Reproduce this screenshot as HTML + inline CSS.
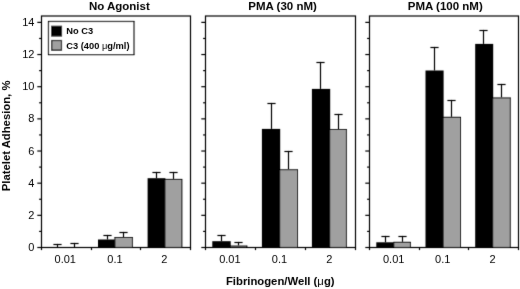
<!DOCTYPE html><html><head><meta charset="utf-8"><style>html,body{margin:0;padding:0;background:#fff;width:520px;height:289px;overflow:hidden}svg{display:block}text{font-family:"Liberation Sans",sans-serif;fill:#000}</style></head><body>
<svg width="520" height="289" viewBox="0 0 520 289">
<defs>
<filter id="bg" x="0" y="0" width="520" height="289" filterUnits="userSpaceOnUse"><feConvolveMatrix order="3" kernelMatrix="0.01134 0.08382 0.01134 0.08382 0.61935 0.08382 0.01134 0.08382 0.01134" edgeMode="none"/></filter>
<filter id="bt" x="0" y="0" width="520" height="289" filterUnits="userSpaceOnUse"><feConvolveMatrix order="3" kernelMatrix="0.00163 0.03713 0.00163 0.03713 0.84497 0.03713 0.00163 0.03713 0.00163" edgeMode="none"/></filter>
</defs>
<rect x="0" y="0" width="520" height="289" fill="#fff"/>
<g filter="url(#bg)">
<line x1="57.50" y1="247.50" x2="57.50" y2="243.90" stroke="#000" stroke-width="1.2"/>
<line x1="53.40" y1="244.50" x2="61.60" y2="244.50" stroke="#000" stroke-width="1.2"/>
<line x1="74.50" y1="247.50" x2="74.50" y2="242.90" stroke="#000" stroke-width="1.2"/>
<line x1="70.40" y1="243.50" x2="78.60" y2="243.50" stroke="#000" stroke-width="1.2"/>
<line x1="107.50" y1="239.50" x2="107.50" y2="234.90" stroke="#000" stroke-width="1.2"/>
<line x1="103.40" y1="235.50" x2="111.60" y2="235.50" stroke="#000" stroke-width="1.2"/>
<line x1="123.50" y1="237.00" x2="123.50" y2="231.90" stroke="#000" stroke-width="1.2"/>
<line x1="119.40" y1="232.50" x2="127.60" y2="232.50" stroke="#000" stroke-width="1.2"/>
<rect x="98.00" y="239.50" width="17.40" height="8.00" fill="#000"/>
<rect x="114.40" y="237.00" width="18.50" height="10.50" fill="#000"/>
<rect x="115.40" y="238.00" width="16.50" height="9.50" fill="#a0a0a0"/>
<line x1="156.50" y1="178.20" x2="156.50" y2="171.90" stroke="#000" stroke-width="1.2"/>
<line x1="152.40" y1="172.50" x2="160.60" y2="172.50" stroke="#000" stroke-width="1.2"/>
<line x1="173.50" y1="178.90" x2="173.50" y2="171.90" stroke="#000" stroke-width="1.2"/>
<line x1="169.40" y1="172.50" x2="177.60" y2="172.50" stroke="#000" stroke-width="1.2"/>
<rect x="147.60" y="178.20" width="17.80" height="69.30" fill="#000"/>
<rect x="164.40" y="178.90" width="18.00" height="68.60" fill="#000"/>
<rect x="165.40" y="179.90" width="16.00" height="67.60" fill="#a0a0a0"/>
<rect x="41.5" y="16.0" width="149.00" height="231.50" fill="none" stroke="#000" stroke-width="1.2"/>
<line x1="37.30" y1="247.50" x2="41.50" y2="247.50" stroke="#000" stroke-width="1.2"/>
<line x1="39.10" y1="231.42" x2="41.50" y2="231.42" stroke="#000" stroke-width="1.2"/>
<line x1="37.30" y1="215.34" x2="41.50" y2="215.34" stroke="#000" stroke-width="1.2"/>
<line x1="39.10" y1="199.26" x2="41.50" y2="199.26" stroke="#000" stroke-width="1.2"/>
<line x1="37.30" y1="183.18" x2="41.50" y2="183.18" stroke="#000" stroke-width="1.2"/>
<line x1="39.10" y1="167.10" x2="41.50" y2="167.10" stroke="#000" stroke-width="1.2"/>
<line x1="37.30" y1="151.02" x2="41.50" y2="151.02" stroke="#000" stroke-width="1.2"/>
<line x1="39.10" y1="134.94" x2="41.50" y2="134.94" stroke="#000" stroke-width="1.2"/>
<line x1="37.30" y1="118.86" x2="41.50" y2="118.86" stroke="#000" stroke-width="1.2"/>
<line x1="39.10" y1="102.78" x2="41.50" y2="102.78" stroke="#000" stroke-width="1.2"/>
<line x1="37.30" y1="86.70" x2="41.50" y2="86.70" stroke="#000" stroke-width="1.2"/>
<line x1="39.10" y1="70.62" x2="41.50" y2="70.62" stroke="#000" stroke-width="1.2"/>
<line x1="37.30" y1="54.54" x2="41.50" y2="54.54" stroke="#000" stroke-width="1.2"/>
<line x1="39.10" y1="38.46" x2="41.50" y2="38.46" stroke="#000" stroke-width="1.2"/>
<line x1="37.30" y1="22.38" x2="41.50" y2="22.38" stroke="#000" stroke-width="1.2"/>
<line x1="41.50" y1="247.50" x2="41.50" y2="250.10" stroke="#000" stroke-width="1.2"/>
<line x1="91.50" y1="247.50" x2="91.50" y2="250.10" stroke="#000" stroke-width="1.2"/>
<line x1="140.50" y1="247.50" x2="140.50" y2="250.10" stroke="#000" stroke-width="1.2"/>
<line x1="190.50" y1="247.50" x2="190.50" y2="250.10" stroke="#000" stroke-width="1.2"/>
<line x1="221.50" y1="241.20" x2="221.50" y2="234.90" stroke="#000" stroke-width="1.2"/>
<line x1="217.40" y1="235.50" x2="225.60" y2="235.50" stroke="#000" stroke-width="1.2"/>
<line x1="238.50" y1="245.50" x2="238.50" y2="241.90" stroke="#000" stroke-width="1.2"/>
<line x1="234.40" y1="242.50" x2="242.60" y2="242.50" stroke="#000" stroke-width="1.2"/>
<rect x="212.30" y="241.20" width="18.40" height="6.30" fill="#000"/>
<rect x="229.70" y="245.50" width="17.70" height="2.00" fill="#000"/>
<rect x="230.70" y="246.50" width="15.70" height="1.00" fill="#a0a0a0"/>
<line x1="271.50" y1="128.90" x2="271.50" y2="102.90" stroke="#000" stroke-width="1.2"/>
<line x1="267.40" y1="103.50" x2="275.60" y2="103.50" stroke="#000" stroke-width="1.2"/>
<line x1="288.50" y1="169.20" x2="288.50" y2="150.90" stroke="#000" stroke-width="1.2"/>
<line x1="284.40" y1="151.50" x2="292.60" y2="151.50" stroke="#000" stroke-width="1.2"/>
<rect x="261.90" y="128.90" width="18.30" height="118.60" fill="#000"/>
<rect x="279.20" y="169.20" width="18.80" height="78.30" fill="#000"/>
<rect x="280.20" y="170.20" width="16.80" height="77.30" fill="#a0a0a0"/>
<line x1="320.50" y1="88.90" x2="320.50" y2="61.90" stroke="#000" stroke-width="1.2"/>
<line x1="316.40" y1="62.50" x2="324.60" y2="62.50" stroke="#000" stroke-width="1.2"/>
<line x1="338.50" y1="129.00" x2="338.50" y2="113.90" stroke="#000" stroke-width="1.2"/>
<line x1="334.40" y1="114.50" x2="342.60" y2="114.50" stroke="#000" stroke-width="1.2"/>
<rect x="311.90" y="88.90" width="18.30" height="158.60" fill="#000"/>
<rect x="329.20" y="129.00" width="17.70" height="118.50" fill="#000"/>
<rect x="330.20" y="130.00" width="15.70" height="117.50" fill="#a0a0a0"/>
<rect x="205.5" y="16.0" width="150.00" height="231.50" fill="none" stroke="#000" stroke-width="1.2"/>
<line x1="201.30" y1="247.50" x2="205.50" y2="247.50" stroke="#000" stroke-width="1.2"/>
<line x1="203.10" y1="231.42" x2="205.50" y2="231.42" stroke="#000" stroke-width="1.2"/>
<line x1="201.30" y1="215.34" x2="205.50" y2="215.34" stroke="#000" stroke-width="1.2"/>
<line x1="203.10" y1="199.26" x2="205.50" y2="199.26" stroke="#000" stroke-width="1.2"/>
<line x1="201.30" y1="183.18" x2="205.50" y2="183.18" stroke="#000" stroke-width="1.2"/>
<line x1="203.10" y1="167.10" x2="205.50" y2="167.10" stroke="#000" stroke-width="1.2"/>
<line x1="201.30" y1="151.02" x2="205.50" y2="151.02" stroke="#000" stroke-width="1.2"/>
<line x1="203.10" y1="134.94" x2="205.50" y2="134.94" stroke="#000" stroke-width="1.2"/>
<line x1="201.30" y1="118.86" x2="205.50" y2="118.86" stroke="#000" stroke-width="1.2"/>
<line x1="203.10" y1="102.78" x2="205.50" y2="102.78" stroke="#000" stroke-width="1.2"/>
<line x1="201.30" y1="86.70" x2="205.50" y2="86.70" stroke="#000" stroke-width="1.2"/>
<line x1="203.10" y1="70.62" x2="205.50" y2="70.62" stroke="#000" stroke-width="1.2"/>
<line x1="201.30" y1="54.54" x2="205.50" y2="54.54" stroke="#000" stroke-width="1.2"/>
<line x1="203.10" y1="38.46" x2="205.50" y2="38.46" stroke="#000" stroke-width="1.2"/>
<line x1="201.30" y1="22.38" x2="205.50" y2="22.38" stroke="#000" stroke-width="1.2"/>
<line x1="205.50" y1="247.50" x2="205.50" y2="250.10" stroke="#000" stroke-width="1.2"/>
<line x1="255.50" y1="247.50" x2="255.50" y2="250.10" stroke="#000" stroke-width="1.2"/>
<line x1="305.50" y1="247.50" x2="305.50" y2="250.10" stroke="#000" stroke-width="1.2"/>
<line x1="355.50" y1="247.50" x2="355.50" y2="250.10" stroke="#000" stroke-width="1.2"/>
<line x1="385.50" y1="242.30" x2="385.50" y2="235.90" stroke="#000" stroke-width="1.2"/>
<line x1="381.40" y1="236.50" x2="389.60" y2="236.50" stroke="#000" stroke-width="1.2"/>
<line x1="402.50" y1="241.80" x2="402.50" y2="235.90" stroke="#000" stroke-width="1.2"/>
<line x1="398.40" y1="236.50" x2="406.60" y2="236.50" stroke="#000" stroke-width="1.2"/>
<rect x="376.30" y="242.30" width="18.00" height="5.20" fill="#000"/>
<rect x="393.30" y="241.80" width="17.60" height="5.70" fill="#000"/>
<rect x="394.30" y="242.80" width="15.60" height="4.70" fill="#a0a0a0"/>
<line x1="434.50" y1="70.50" x2="434.50" y2="46.90" stroke="#000" stroke-width="1.2"/>
<line x1="430.40" y1="47.50" x2="438.60" y2="47.50" stroke="#000" stroke-width="1.2"/>
<line x1="451.50" y1="116.80" x2="451.50" y2="99.90" stroke="#000" stroke-width="1.2"/>
<line x1="447.40" y1="100.50" x2="455.60" y2="100.50" stroke="#000" stroke-width="1.2"/>
<rect x="425.50" y="70.50" width="18.10" height="177.00" fill="#000"/>
<rect x="442.60" y="116.80" width="18.40" height="130.70" fill="#000"/>
<rect x="443.60" y="117.80" width="16.40" height="129.70" fill="#a0a0a0"/>
<line x1="483.50" y1="43.90" x2="483.50" y2="29.90" stroke="#000" stroke-width="1.2"/>
<line x1="479.40" y1="30.50" x2="487.60" y2="30.50" stroke="#000" stroke-width="1.2"/>
<line x1="501.50" y1="97.40" x2="501.50" y2="83.90" stroke="#000" stroke-width="1.2"/>
<line x1="497.40" y1="84.50" x2="505.60" y2="84.50" stroke="#000" stroke-width="1.2"/>
<rect x="475.20" y="43.90" width="18.00" height="203.60" fill="#000"/>
<rect x="492.20" y="97.40" width="18.60" height="150.10" fill="#000"/>
<rect x="493.20" y="98.40" width="16.60" height="149.10" fill="#a0a0a0"/>
<rect x="369.5" y="16.0" width="149.00" height="231.50" fill="none" stroke="#000" stroke-width="1.2"/>
<line x1="365.30" y1="247.50" x2="369.50" y2="247.50" stroke="#000" stroke-width="1.2"/>
<line x1="367.10" y1="231.42" x2="369.50" y2="231.42" stroke="#000" stroke-width="1.2"/>
<line x1="365.30" y1="215.34" x2="369.50" y2="215.34" stroke="#000" stroke-width="1.2"/>
<line x1="367.10" y1="199.26" x2="369.50" y2="199.26" stroke="#000" stroke-width="1.2"/>
<line x1="365.30" y1="183.18" x2="369.50" y2="183.18" stroke="#000" stroke-width="1.2"/>
<line x1="367.10" y1="167.10" x2="369.50" y2="167.10" stroke="#000" stroke-width="1.2"/>
<line x1="365.30" y1="151.02" x2="369.50" y2="151.02" stroke="#000" stroke-width="1.2"/>
<line x1="367.10" y1="134.94" x2="369.50" y2="134.94" stroke="#000" stroke-width="1.2"/>
<line x1="365.30" y1="118.86" x2="369.50" y2="118.86" stroke="#000" stroke-width="1.2"/>
<line x1="367.10" y1="102.78" x2="369.50" y2="102.78" stroke="#000" stroke-width="1.2"/>
<line x1="365.30" y1="86.70" x2="369.50" y2="86.70" stroke="#000" stroke-width="1.2"/>
<line x1="367.10" y1="70.62" x2="369.50" y2="70.62" stroke="#000" stroke-width="1.2"/>
<line x1="365.30" y1="54.54" x2="369.50" y2="54.54" stroke="#000" stroke-width="1.2"/>
<line x1="367.10" y1="38.46" x2="369.50" y2="38.46" stroke="#000" stroke-width="1.2"/>
<line x1="365.30" y1="22.38" x2="369.50" y2="22.38" stroke="#000" stroke-width="1.2"/>
<line x1="369.50" y1="247.50" x2="369.50" y2="250.10" stroke="#000" stroke-width="1.2"/>
<line x1="419.50" y1="247.50" x2="419.50" y2="250.10" stroke="#000" stroke-width="1.2"/>
<line x1="468.50" y1="247.50" x2="468.50" y2="250.10" stroke="#000" stroke-width="1.2"/>
<line x1="518.50" y1="247.50" x2="518.50" y2="250.10" stroke="#000" stroke-width="1.2"/>
<rect x="48.5" y="21.5" width="85.5" height="33.1" fill="#fff" stroke="#000" stroke-width="1.2"/>
<rect x="51.10" y="25.70" width="11.00" height="10.90" fill="#000"/>
<rect x="51.10" y="39.90" width="11.00" height="10.90" fill="#000"/>
<rect x="52.30" y="41.10" width="8.60" height="8.50" fill="#a0a0a0"/>
</g>
<g filter="url(#bt)">
<text x="65.25" y="262.5" font-size="11" text-anchor="middle">0.01</text>
<text x="114.95" y="262.5" font-size="11" text-anchor="middle">0.1</text>
<text x="164.30" y="262.5" font-size="11" text-anchor="middle">2</text>
<text x="119.35" y="9.9" font-size="11.5" font-weight="bold" text-anchor="middle">No Agonist</text>
<text x="229.85" y="262.5" font-size="11" text-anchor="middle">0.01</text>
<text x="279.50" y="262.5" font-size="11" text-anchor="middle">0.1</text>
<text x="329.30" y="262.5" font-size="11" text-anchor="middle">2</text>
<text x="282.6" y="9.9" font-size="11.5" font-weight="bold" text-anchor="middle">PMA (30 nM)</text>
<text x="393.70" y="262.5" font-size="11" text-anchor="middle">0.01</text>
<text x="442.70" y="262.5" font-size="11" text-anchor="middle">0.1</text>
<text x="492.50" y="262.5" font-size="11" text-anchor="middle">2</text>
<text x="445.3" y="9.9" font-size="11.5" font-weight="bold" text-anchor="middle">PMA (100 nM)</text>
<text x="34.4" y="251.10" font-size="11" text-anchor="end">0</text>
<text x="34.4" y="218.94" font-size="11" text-anchor="end">2</text>
<text x="34.4" y="186.78" font-size="11" text-anchor="end">4</text>
<text x="34.4" y="154.62" font-size="11" text-anchor="end">6</text>
<text x="34.4" y="122.46" font-size="11" text-anchor="end">8</text>
<text x="34.4" y="90.30" font-size="11" text-anchor="end">10</text>
<text x="34.4" y="58.14" font-size="11" text-anchor="end">12</text>
<text x="34.4" y="25.98" font-size="11" text-anchor="end">14</text>
<text transform="translate(9.6,135.9) rotate(-90)" font-size="11.3" font-weight="bold" text-anchor="middle">Platelet Adhesion, %</text>
<text x="280.25" y="285" font-size="11.3" font-weight="bold" text-anchor="middle">Fibrinogen/Well (<tspan font-weight="normal">μ</tspan>g)</text>
<text x="66.3" y="33.8" font-size="9.3" font-weight="bold">No C3</text>
<text x="66.3" y="49.0" font-size="9.3" font-weight="bold">C3 (400 <tspan font-weight="normal">μ</tspan>g/ml)</text>
</g>
</svg></body></html>
